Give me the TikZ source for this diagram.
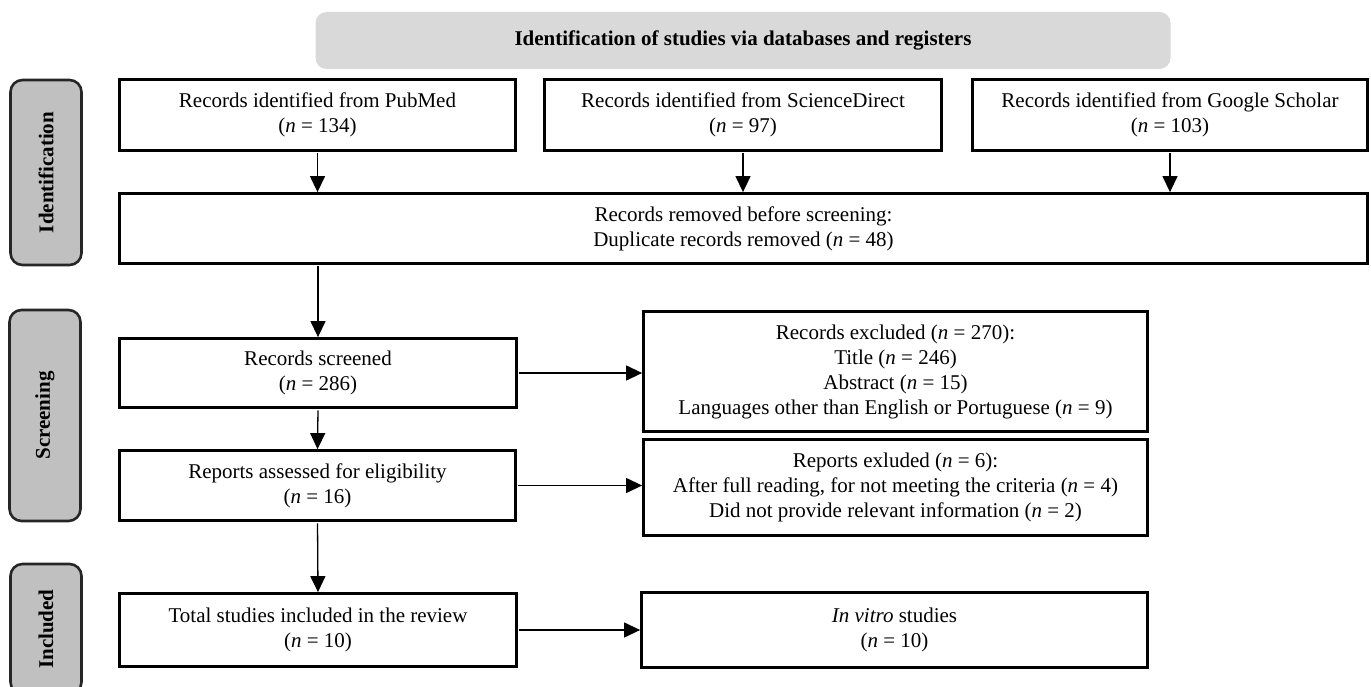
\documentclass[tikz,border=0pt]{standalone}
\usepackage{fontspec}
\setmainfont{Liberation Serif}
\usetikzlibrary{arrows.meta}
\definecolor{hdrgray}{HTML}{D9D9D9}
\definecolor{lblgray}{HTML}{C0C0C0}
\begin{document}
\begin{tikzpicture}[x=1pt,y=-1pt,
  every node/.style={font=\fontsize{21}{25}\selectfont},
  flowbox/.style={draw=black,line width=2.8pt,align=center,inner sep=0pt},
  sidelabel/.style={draw=black!85,line width=2.6pt,fill=lblgray,rounded corners=12pt,
    rotate=90,minimum height=71pt,inner sep=0pt,font=\fontsize{21}{25}\selectfont\bfseries},
  conn/.style={line width=1.3pt,-{Triangle[width=15pt,length=16pt]},shorten <=1.5pt}]
\useasboundingbox (0,0) rectangle (1371,687);
% header
\node[fill=hdrgray,rounded corners=11pt,minimum width=855pt,minimum height=57pt,inner sep=0pt,
  font=\fontsize{21}{25}\selectfont\bfseries] (hdr) at (743,40.5)
  {Identification of studies via databases and registers};
% side labels
\node[sidelabel,minimum width=185pt] (lid) at (46,172.5) {Identification};
\node[sidelabel,minimum width=211pt] (lsc) at (45,415.5) {Screening};
\node[sidelabel,minimum width=130pt] (lin) at (46,629) {Included};
% identification boxes
\node[flowbox,minimum width=396pt,minimum height=71pt] (pub) at (317.5,115)
  {Records identified from PubMed\\(\textit{n} = 134)};
\node[flowbox,minimum width=397pt,minimum height=71pt] (sci) at (743,115)
  {Records identified from ScienceDirect\\(\textit{n} = 97)};
\node[flowbox,minimum width=395pt,minimum height=71pt] (goo) at (1170,115)
  {Records identified from Google Scholar\\(\textit{n} = 103)};
\node[flowbox,minimum width=1248pt,minimum height=70pt] (rem) at (743.5,228.5)
  {Records removed before screening:\\Duplicate records removed (\textit{n} = 48)};
% screening
\node[flowbox,minimum width=397pt,minimum height=69pt] (scr) at (318,373)
  {Records screened\\(\textit{n} = 286)};
\node[flowbox,minimum width=396pt,minimum height=70pt] (rep) at (317.5,485.5)
  {Reports assessed for eligibility\\(\textit{n} = 16)};
\node[flowbox,minimum width=504pt,minimum height=120pt] (exc) at (895.5,371.5)
  {Records excluded (\textit{n} = 270):\\Title (\textit{n} = 246)\\Abstract (\textit{n} = 15)\\Languages other than English or Portuguese (\textit{n} = 9)};
\node[flowbox,minimum width=504pt,minimum height=96pt] (rex) at (895.5,487.5)
  {Reports exluded (\textit{n} = 6):\\After full reading, for not meeting the criteria (\textit{n} = 4)\\Did not provide relevant information (\textit{n} = 2)};
% included
\node[flowbox,minimum width=397pt,minimum height=73pt] (tot) at (318,630)
  {Total studies included in the review\\(\textit{n} = 10)};
\node[flowbox,minimum width=506pt,minimum height=75pt] (vit) at (894.5,630)
  {\textit{In vitro} studies\\(\textit{n} = 10)};
% connectors
\draw[conn] (pub.south) -- (pub.south |- rem.north);
\draw[conn] (sci.south) -- (sci.south |- rem.north);
\draw[conn] (goo.south) -- (goo.south |- rem.north);
\draw[conn] (scr.north |- rem.south) -- (scr.north);
\draw[conn] (scr.south) -- (rep.north);
\draw[conn] (rep.south) -- (tot.north);
\draw[conn] (scr.east) -- (scr.east -| exc.west);
\draw[conn] (rep.east) -- (rep.east -| rex.west);
\draw[conn] (tot.east) -- (tot.east -| vit.west);
\end{tikzpicture}
\end{document}
